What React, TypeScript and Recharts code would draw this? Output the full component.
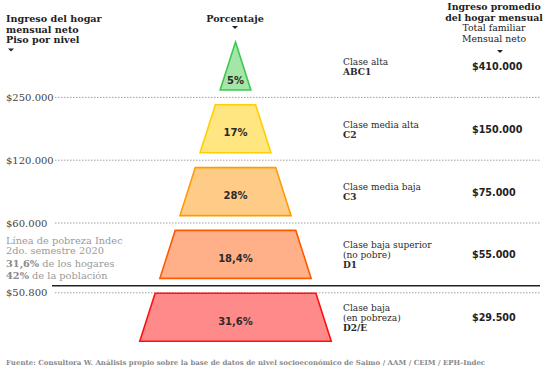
import React from 'react';
import { BarChart, Bar, XAxis, YAxis } from 'recharts';

const classes = ['ABC1', 'C2', 'C3', 'D1', 'D2/E'];
const classLabels = [
  ['Clase alta'],
  ['Clase media alta'],
  ['Clase media baja'],
  ['Clase baja superior', '(no pobre)'],
  ['Clase baja', '(en pobreza)'],
];
const percentages = [5, 17, 28, 18.4, 31.6];
const floorIncome = ['$250.000', '$120.000', '$60.000', '$50.800', ''];
const avgIncome = ['$410.000', '$150.000', '$75.000', '$55.000', '$29.500'];
const povertyClass = 'D1';
const povertyNote = ['Línea de pobreza Indec', '2do. semestre 2020'];
const povertyShares = [
  ['31,6%', ' de los hogares'],
  ['42%', ' de la población'],
];

const fills = ['#a3e6a8', '#ffe680', '#ffcc88', '#ffb088', '#ff8a8a'];
const strokes = ['#3cc94f', '#ffcf00', '#ff9a00', '#ff5a00', '#ff1010'];

const data = classes.map((clase, i) => ({ clase, pct: percentages[i] }));

const W = 548;
const H = 377;
const MARGIN = { top: 35, right: 0, bottom: 28, left: 135 };
const AXIS_W = 212;
const BAND = (H - MARGIN.top - MARGIN.bottom) / classes.length;
const CENTER_X = (MARGIN.left + (W - AXIS_W)) / 2;
const SLOPE = 0.32;
const SERIF = '"DejaVu Serif", serif';
const SANS = '"DejaVu Sans", sans-serif';

const fmtPct = (v: number) => String(v).replace('.', ',') + '%';

const PyramidSlice = (props: any) => {
  const { y, height, index } = props;
  const apexY = y - index * BAND;
  const top = y;
  const bottom = y + height;
  const hwTop = SLOPE * (top - apexY);
  const hwBot = SLOPE * (bottom - apexY);
  const pts = [
    [CENTER_X - hwTop, top],
    [CENTER_X + hwTop, top],
    [CENTER_X + hwBot, bottom],
    [CENTER_X - hwBot, bottom],
  ]
    .map((p) => p.join(','))
    .join(' ');
  const labelY = index === 0 ? top + height * 0.8 + 3.6 : top + height / 2 + 7.5;
  const bandBottom = y + height / 2 + BAND / 2;
  const isPoverty = classes[index] === povertyClass;
  const floorY = isPoverty ? bandBottom + 7 : bandBottom;
  const floor = floorIncome[index];
  return (
    <g>
      {floor && (
        <g>
          <line x1={55} x2={540} y1={floorY} y2={floorY} stroke="#a0a0a0" strokeDasharray="1.5 1.5" />
          <text x={6} y={floorY + 3.5} fontFamily={SERIF} fontSize={10} fill="#444">
            {floor}
          </text>
        </g>
      )}
      {isPoverty && (
        <g>
          <line x1={52} x2={540} y1={bandBottom} y2={bandBottom} stroke="#222" strokeWidth={1.5} />
          {povertyNote.map((t, k) => (
            <text key={t} x={6} y={bandBottom - 42 + k * 10.5} fontFamily={SERIF} fontSize={9.8} fill="#9a9a9a">
              {t}
            </text>
          ))}
          {povertyShares.map((s, k) => (
            <text key={s[0]} x={6} y={bandBottom - 19 + k * 12} fontFamily={SERIF} fontSize={9.8} fill="#9a9a9a">
              <tspan fontWeight="bold" fill="#8a8a8a">{s[0]}</tspan>
              {s[1]}
            </text>
          ))}
        </g>
      )}
      <polygon points={pts} fill={fills[index]} stroke={strokes[index]} strokeWidth={1.6} strokeLinejoin="miter" />
      <text x={CENTER_X} y={labelY} textAnchor="middle" fontFamily={SANS} fontWeight="bold" fontSize={10} fill="#2a2a2a">
        {fmtPct(percentages[index])}
      </text>
    </g>
  );
};

const ClassTick = (props: any) => {
  const { y, payload } = props;
  const i = classes.indexOf(payload.value);
  const lines = [...classLabels[i], classes[i]];
  const start = y - ((lines.length - 1) * 10) / 2 + 3.3;
  return (
    <g>
      {lines.map((t, k) => (
        <text
          key={k}
          x={343}
          y={start + k * 10}
          fontFamily={SERIF}
          fontSize={9}
          fontWeight={k === lines.length - 1 ? 'bold' : 'normal'}
          fill="#2a2a2a"
        >
          {t}
        </text>
      ))}
      <text x={472} y={y + 3.5} fontFamily={SANS} fontWeight="bold" fontSize={9.6} fill="#222">
        {avgIncome[i]}
      </text>
    </g>
  );
};

const Arrow = ({ x, y }: { x: number; y: number }) => (
  <polygon points={`${x - 3},${y - 1.5} ${x + 3},${y - 1.5} ${x},${y + 1.5}`} fill="#222" />
);

const Headers = () => (
  <svg width={W} height={H} style={{ position: 'absolute', left: 0, top: 0, pointerEvents: 'none' }}>
    <g fontFamily={SERIF} fontSize={9.6} fill="#222">
      <text x={6} y={22} fontWeight="bold">Ingreso del hogar</text>
      <text x={6} y={32.5} fontWeight="bold">mensual neto</text>
      <text x={6} y={43} fontWeight="bold">Piso por nivel</text>
      <text x={235} y={21.5} fontWeight="bold" textAnchor="middle">Porcentaje</text>
      <text x={494} y={10} fontSize={9.4} fontWeight="bold" textAnchor="middle">Ingreso promedio</text>
      <text x={494} y={20.5} fontSize={9.4} fontWeight="bold" textAnchor="middle">del hogar mensual</text>
      <text x={494} y={31} fontSize={9.3} textAnchor="middle">Total familiar</text>
      <text x={494} y={42} fontSize={9.3} textAnchor="middle">Mensual neto</text>
      <text x={6} y={365} fontSize={7} fontWeight="bold" fill="#8a8a8a">
        Fuente: Consultora W. Análisis propio sobre la base de datos de nivel socioeconómico de Saimo / AAM / CEIM / EPH-Indec
      </text>
    </g>
    <Arrow x={11} y={50} />
    <Arrow x={235} y={27.5} />
    <Arrow x={500} y={51.5} />
  </svg>
);

export default function App() {
  return (
    <div style={{ position: 'absolute', left: 0, top: 0, width: W, height: H, background: '#fff' }}>
      <BarChart width={W} height={H} data={data} layout="vertical" margin={MARGIN}>
        <XAxis type="number" hide domain={[0, 100]} />
        <YAxis
          type="category"
          dataKey="clase"
          orientation="right"
          width={AXIS_W}
          axisLine={false}
          tickLine={false}
          tick={<ClassTick />}
        />
        <Bar dataKey="pct" barSize={48} shape={<PyramidSlice />} isAnimationActive={false} />
      </BarChart>
      <Headers />
    </div>
  );
}
